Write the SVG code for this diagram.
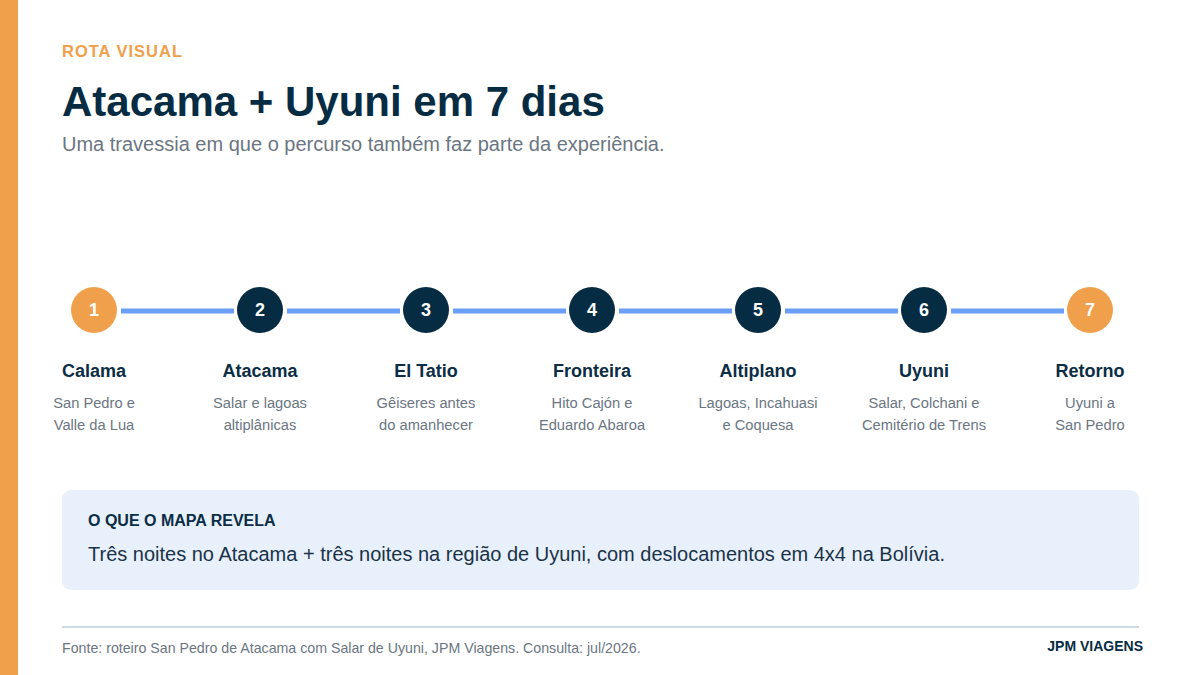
<svg xmlns="http://www.w3.org/2000/svg" width="1200" height="675" viewBox="0 0 1200 675">
<style>
text{font-family:"Liberation Sans",Arial,sans-serif}
.num{fill:#fff;font-size:18px;font-weight:bold;text-anchor:middle}
.lbl{fill:#0b2d45;font-size:18px;font-weight:bold;text-anchor:middle}
.desc{fill:#6b7682;font-size:14.7px;text-anchor:middle}
.dark{fill:#062c43}
.acc{fill:#f0a04b}
.conn{stroke:#6b9ef8;stroke-width:5}
</style>
<rect width="1200" height="675" fill="#fff"/>
<rect x="0" y="0" width="18" height="675" fill="#f0a04b"/>
<text x="62" y="57" font-size="16.5" font-weight="bold" fill="#f0a04b" letter-spacing="1">ROTA VISUAL</text>
<text x="62" y="116" font-size="42" font-weight="bold" fill="#062c43">Atacama + Uyuni em 7 dias</text>
<text x="62" y="151" font-size="20" fill="#6b7682">Uma travessia em que o percurso também faz parte da experiência.</text>
<g id="connectors">
<line class="conn" x1="121" y1="311" x2="234" y2="311"/>
<line class="conn" x1="287" y1="311" x2="400" y2="311"/>
<line class="conn" x1="453" y1="311" x2="566" y2="311"/>
<line class="conn" x1="619" y1="311" x2="732" y2="311"/>
<line class="conn" x1="785" y1="311" x2="898" y2="311"/>
<line class="conn" x1="951" y1="311" x2="1064" y2="311"/>
</g>
<g id="n1"><circle class="acc" cx="94" cy="310" r="23"/><text class="num" x="94" y="316">1</text><text class="lbl" x="94" y="377">Calama</text><text class="desc" x="94" y="408">San Pedro e</text><text class="desc" x="94" y="430">Valle da Lua</text></g>
<g id="n2"><circle class="dark" cx="260" cy="310" r="23"/><text class="num" x="260" y="316">2</text><text class="lbl" x="260" y="377">Atacama</text><text class="desc" x="260" y="408">Salar e lagoas</text><text class="desc" x="260" y="430">altiplânicas</text></g>
<g id="n3"><circle class="dark" cx="426" cy="310" r="23"/><text class="num" x="426" y="316">3</text><text class="lbl" x="426" y="377">El Tatio</text><text class="desc" x="426" y="408">Gêiseres antes</text><text class="desc" x="426" y="430">do amanhecer</text></g>
<g id="n4"><circle class="dark" cx="592" cy="310" r="23"/><text class="num" x="592" y="316">4</text><text class="lbl" x="592" y="377">Fronteira</text><text class="desc" x="592" y="408">Hito Cajón e</text><text class="desc" x="592" y="430">Eduardo Abaroa</text></g>
<g id="n5"><circle class="dark" cx="758" cy="310" r="23"/><text class="num" x="758" y="316">5</text><text class="lbl" x="758" y="377">Altiplano</text><text class="desc" x="758" y="408">Lagoas, Incahuasi</text><text class="desc" x="758" y="430">e Coquesa</text></g>
<g id="n6"><circle class="dark" cx="924" cy="310" r="23"/><text class="num" x="924" y="316">6</text><text class="lbl" x="924" y="377">Uyuni</text><text class="desc" x="924" y="408">Salar, Colchani e</text><text class="desc" x="924" y="430">Cemitério de Trens</text></g>
<g id="n7"><circle class="acc" cx="1090" cy="310" r="23"/><text class="num" x="1090" y="316">7</text><text class="lbl" x="1090" y="377">Retorno</text><text class="desc" x="1090" y="408">Uyuni a</text><text class="desc" x="1090" y="430">San Pedro</text></g>
<g id="insight">
<rect x="62" y="490" width="1077" height="100" rx="9" fill="#e8f0fc"/>
<text x="88" y="526" font-size="16" font-weight="bold" fill="#0b2d45">O QUE O MAPA REVELA</text>
<text x="88" y="561" font-size="20" fill="#1a3347">Três noites no Atacama + três noites na região de Uyuni, com deslocamentos em 4x4 na Bolívia.</text>
</g>
<line x1="62" y1="627" x2="1139" y2="627" stroke="#d0d9e0" stroke-width="2"/>
<text x="62" y="653" font-size="14.2" fill="#6b7682">Fonte: roteiro San Pedro de Atacama com Salar de Uyuni, JPM Viagens. Consulta: jul/2026.</text>
<text x="1143" y="651" font-size="14" font-weight="bold" fill="#062c43" text-anchor="end">JPM VIAGENS</text>
</svg>
